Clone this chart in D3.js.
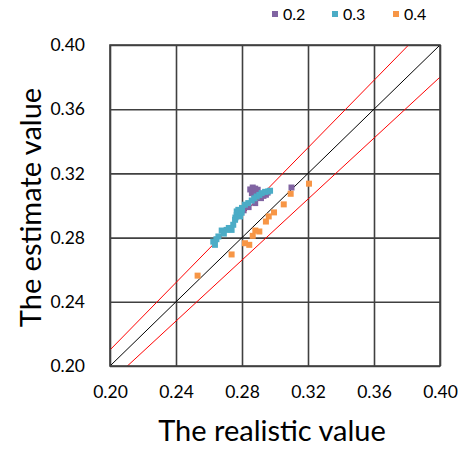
<!DOCTYPE html>
<html>
<head>
<meta charset="utf-8">
<script src="https://cdn.jsdelivr.net/npm/d3@7"></script>
<style>
  body { margin: 0; background: #fff; }
  text { font-family: Lato, "Open Sans", sans-serif; fill: #000; }
</style>
</head>
<body>
<svg id="chart" width="460" height="450"></svg>
<script>
// series values: [realistic, estimate]
let series02 = [
    [0.2850, 0.3100], [0.2865, 0.3112], [0.2880, 0.3105], [0.2895, 0.3098],
    [0.2860, 0.3077], [0.2875, 0.3067], [0.2915, 0.3046], [0.2945, 0.3067],
    [0.2880, 0.3015], [0.2810, 0.2970], [0.2840, 0.2990], [0.3100, 0.3112],
    [0.2930, 0.3060], [0.2955, 0.3080]
];
let series03 = [
    [0.2626, 0.2775], [0.2636, 0.2755], [0.2657, 0.2807], [0.2677, 0.2844],
    [0.2707, 0.2848], [0.2737, 0.2848], [0.2747, 0.2880], [0.2758, 0.2911],
    [0.2768, 0.2963], [0.2778, 0.2973], [0.2768, 0.2940], [0.2788, 0.2932],
    [0.2798, 0.2955], [0.2818, 0.3005], [0.2838, 0.3015], [0.2859, 0.3031],
    [0.2875, 0.3045], [0.2889, 0.3056], [0.2905, 0.3066], [0.2919, 0.3077],
    [0.2940, 0.3085], [0.2959, 0.3088], [0.2970, 0.3092], [0.2690, 0.2825],
    [0.2720, 0.2860], [0.2800, 0.2985], [0.2645, 0.2790], [0.2760, 0.2925]
];
let series04 = [
    [0.3206, 0.3136], [0.3095, 0.3073], [0.3053, 0.3007], [0.2994, 0.2957],
    [0.2962, 0.2932], [0.2945, 0.2900], [0.2905, 0.2838], [0.2881, 0.2844],
    [0.2865, 0.2811], [0.2818, 0.2765], [0.2844, 0.2755], [0.2737, 0.2695],
    [0.2531, 0.2563]
];
let seriesNames = ["0.2", "0.3", "0.4"];
let seriesColors = ["#8064A2", "#4BACC6", "#F79646"];
let ticks = [0.20, 0.24, 0.28, 0.32, 0.36, 0.40];
let refSlopes = [1.05, 0.95];

let margin = {top: 45, right: 20, bottom: 84, left: 110},
    width = 440 - margin.left,
    height = 366 - margin.top;

let svg = d3.select("#chart");
let chart = svg.append("g")
    .attr("transform", "translate(" + margin.left + "," + margin.top + ")");

let xScale = d3.scaleLinear().domain([0.2, 0.4]).range([0, width]);
let yScale = d3.scaleLinear().domain([0.2, 0.4]).range([height, 0]);

// grid
chart.append("g")
    .attr("class", "grid")
    .attr("transform", "translate(0," + height + ")")
    .call(d3.axisBottom(xScale).tickValues(ticks).tickSize(-height).tickFormat(""))
    .call(g => g.select(".domain").remove())
    .selectAll("line").attr("stroke", "#404040").attr("stroke-width", 1.6);

chart.append("g")
    .attr("class", "grid")
    .call(d3.axisLeft(yScale).tickValues(ticks).tickSize(-width).tickFormat(""))
    .call(g => g.select(".domain").remove())
    .selectAll("line").attr("stroke", "#404040").attr("stroke-width", 1.6);

// tick labels
chart.append("g")
    .attr("transform", "translate(0," + height + ")")
    .call(d3.axisBottom(xScale).tickValues(ticks).tickSize(0).tickPadding(20).tickFormat(d3.format(".2f")))
    .call(g => g.select(".domain").remove())
    .selectAll("text").style("font-size", "17.5px").style("font-family", "Lato, sans-serif").attr("fill", "#000");

chart.append("g")
    .call(d3.axisLeft(yScale).tickValues(ticks).tickSize(0).tickPadding(25).tickFormat(d3.format(".2f")))
    .call(g => g.select(".domain").remove())
    .selectAll("text").style("font-size", "17.5px").style("font-family", "Lato, sans-serif").attr("fill", "#000");

// clip for reference lines
chart.append("clipPath").attr("id", "plotclip")
    .append("rect").attr("width", width).attr("height", height);

let lines = chart.append("g").attr("clip-path", "url(#plotclip)");
let line = d3.line().x(d => xScale(d[0])).y(d => yScale(d[1]));

lines.append("path")
    .attr("d", line([[0.2, 0.2], [0.4, 0.4]]))
    .attr("stroke", "#000").attr("stroke-width", 1).attr("fill", "none");

refSlopes.forEach(function(k) {
    lines.append("path")
        .attr("d", line([[0.15, 0.15 * k], [0.45, 0.45 * k]]))
        .attr("stroke", "#ff0000").attr("stroke-width", 1).attr("fill", "none");
});

// points
let allSeries = [series02, series03, series04];
let sz = 6;
allSeries.forEach(function(s, i) {
    chart.append("g").selectAll("rect")
        .data(s)
        .join("rect")
        .attr("x", d => xScale(d[0]) - sz / 2)
        .attr("y", d => yScale(d[1]) - sz / 2)
        .attr("width", sz)
        .attr("height", sz)
        .attr("fill", seriesColors[i]);
});

// border
chart.append("rect")
    .attr("width", width).attr("height", height)
    .attr("fill", "none").attr("stroke", "#404040").attr("stroke-width", 1.6);

// axis titles
svg.append("text")
    .attr("x", 272)
    .attr("y", 441)
    .attr("text-anchor", "middle")
    .style("font-size", "29px")
    .text("The realistic value");

svg.append("text")
    .attr("transform", "translate(41," + (margin.top + height / 2 + 2) + ") rotate(-90)")
    .attr("text-anchor", "middle")
    .style("font-size", "29px")
    .text("The estimate value");

// legend
let legendX = [272, 332, 393];
let legend = svg.append("g");
seriesNames.forEach(function(n, i) {
    legend.append("rect")
        .attr("x", legendX[i]).attr("y", 11)
        .attr("width", 6).attr("height", 6)
        .attr("fill", seriesColors[i]);
    legend.append("text")
        .attr("x", legendX[i] + 11).attr("y", 20)
        .style("font-size", "16px")
        .text(n);
});
</script>
</body>
</html>
